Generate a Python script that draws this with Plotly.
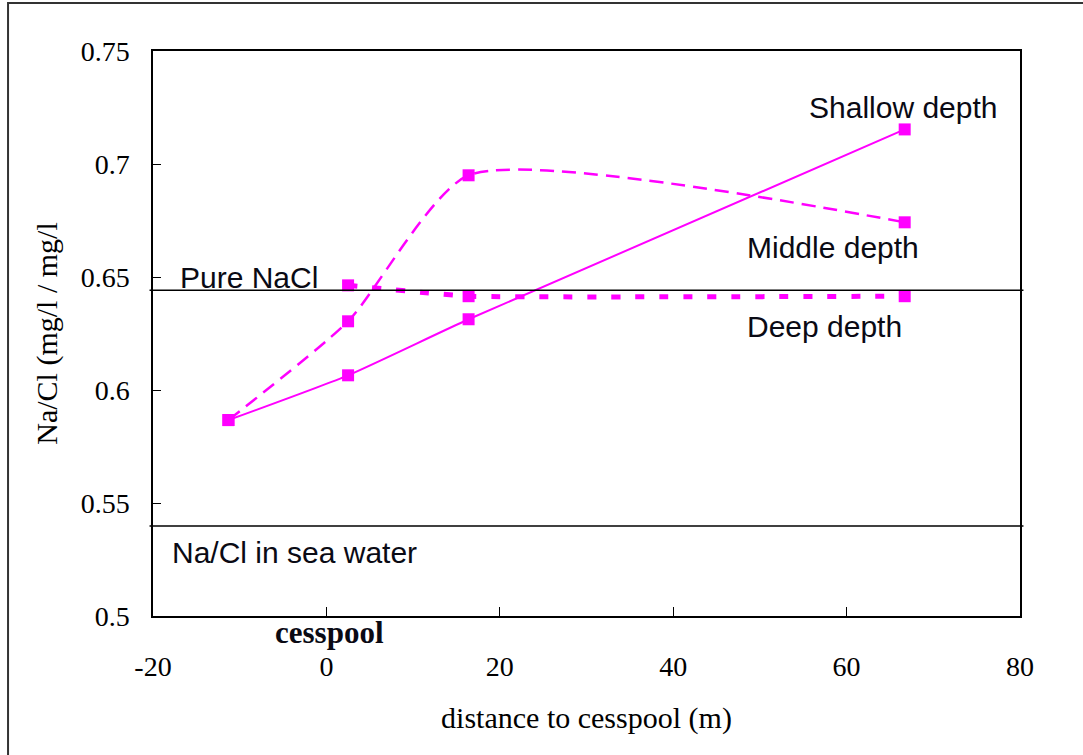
import plotly.graph_objects as go

# ---- data ----
x_shallow = [-11.3, 2.5, 16.4, 66.7]
y_shallow = [0.5867, 0.6065, 0.6313, 0.7153]

x_middle = [-11.3, 2.5, 16.4, 66.7]
y_middle = [0.5867, 0.6304, 0.6950, 0.6742]

x_deep = [2.5, 16.4, 66.7]
y_deep = [0.6463, 0.6415, 0.6415]

pure_nacl = 0.6441
sea_water = 0.5398

x_ticks = [-20, 0, 20, 40, 60, 80]
x_tick_labels = ["-20", "0", "20", "40", "60", "80"]
y_ticks = [0.5, 0.55, 0.6, 0.65, 0.7, 0.75]
y_tick_labels = ["0.5", "0.55", "0.6", "0.65", "0.7", "0.75"]

MAG = "#FF00FF"
SERIF = "Liberation Serif, Times New Roman, serif"
SANS = "Liberation Sans, Arial, sans-serif"

fig = go.Figure()

fig.add_trace(go.Scatter(
    x=x_shallow, y=y_shallow, mode="lines+markers",
    line=dict(color=MAG, width=2, shape="spline", smoothing=0.5),
    marker=dict(symbol="square", size=12, color=MAG),
    name="Shallow depth", showlegend=False))

fig.add_trace(go.Scatter(
    x=x_middle, y=y_middle, mode="lines+markers",
    line=dict(color=MAG, width=2.5, shape="spline", smoothing=0.6, dash="14px,8px"),
    marker=dict(symbol="square", size=12, color=MAG),
    name="Middle depth", showlegend=False))

fig.add_trace(go.Scatter(
    x=x_deep, y=y_deep, mode="lines+markers",
    line=dict(color=MAG, width=5, shape="spline", smoothing=0.3, dash="9px,15px"),
    marker=dict(symbol="square", size=12, color=MAG),
    name="Deep depth", showlegend=False))

# reference lines
for yv in [pure_nacl, sea_water]:
    fig.add_shape(type="line", xref="paper", yref="y", x0=-0.004, x1=1.004,
                  y0=yv, y1=yv, line=dict(color="black", width=1.5))

# outer border
fig.add_shape(type="rect", xref="paper", yref="paper",
              x0=-0.1672, x1=1.2, y0=-0.5, y1=1.085,
              line=dict(color="#333333", width=2), fillcolor="rgba(0,0,0,0)")

def ann(text, x, y, font, size, bold=False, yref="y"):
    fig.add_annotation(x=x, y=y, xref="x", yref=yref,
                       text=("<b>%s</b>" % text) if bold else text,
                       showarrow=False, xanchor="center", yanchor="middle",
                       font=dict(family=font, size=size, color="#0a0a14"))

ann("Shallow depth", 66.45, 0.7250, SANS, 30)
ann("Middle depth", 58.4, 0.6631, SANS, 30)
ann("Deep depth", 57.4, 0.6282, SANS, 30)
ann("Pure NaCl", -8.9, 0.6499, SANS, 30)
ann("Na/Cl in sea water", -3.7, 0.5283, SANS, 30)
ann("cesspool", 0.3, -0.030, SERIF, 31, bold=True, yref="paper")

fig.update_layout(
    width=1083, height=755,
    margin=dict(l=153, r=63, t=51, b=139),
    paper_bgcolor="white", plot_bgcolor="white",
    font=dict(family=SERIF, size=28, color="black"),
    xaxis=dict(range=[-20, 80], tickvals=x_ticks, ticktext=x_tick_labels,
               ticks="inside", ticklen=9,
               tickcolor="black", tickwidth=1.2, showline=True, linecolor="black",
               linewidth=1.5, mirror=True, showgrid=False, zeroline=False,
               ticklabelstandoff=25,
               title=dict(text="distance to cesspool (m)", standoff=26,
                          font=dict(family=SERIF, size=30)),
               tickfont=dict(family=SERIF, size=28)),
    yaxis=dict(range=[0.5, 0.75], tickvals=y_ticks, ticktext=y_tick_labels,
               ticks="inside", ticklen=8, tickcolor="black", tickwidth=1.2,
               showline=True, linecolor="black", linewidth=1.5, mirror=True,
               showgrid=False, zeroline=False, ticklabelstandoff=16,
               title=dict(text="Na/Cl (mg/l / mg/l", standoff=14,
                          font=dict(family=SERIF, size=30)),
               tickfont=dict(family=SERIF, size=28)),
)

fig.write_html("out.html", config={"displayModeBar": False},
               post_script="document.body.style.margin='0';document.body.style.overflow='hidden';")
